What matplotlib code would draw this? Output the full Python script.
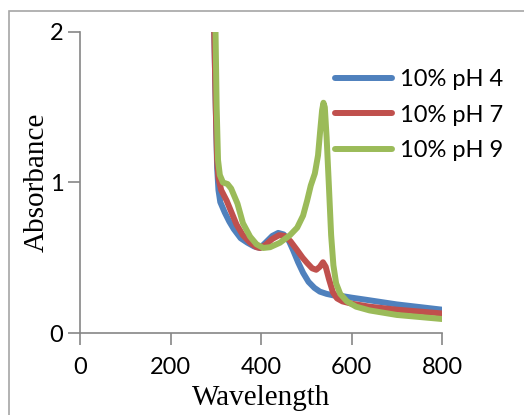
import matplotlib
matplotlib.use('Agg')
import matplotlib.pyplot as plt
from matplotlib.patches import Rectangle

# wavelength (nm) / absorbance
wl_ph4 = [296, 300, 303, 306, 310, 320, 330, 340, 355, 370, 385, 398, 410, 425, 438, 450, 462, 471,
          482, 493, 505, 518, 530, 545, 560, 580, 600, 634, 700, 800]
abs_ph4 = [2.1, 1.5, 1.1, 0.95, 0.87, 0.80, 0.74, 0.69, 0.63, 0.60, 0.575, 0.565, 0.60, 0.645, 0.665,
           0.655, 0.61, 0.55, 0.47, 0.40, 0.34, 0.30, 0.275, 0.26, 0.25, 0.245, 0.235, 0.22, 0.19, 0.155]

wl_ph7 = [296, 300, 303, 306, 312, 324, 335, 346, 360, 376, 390, 398, 410, 425, 440, 452, 465, 480,
          492, 502, 513, 522, 530, 537, 543, 550, 559, 568, 580, 600, 640, 700, 800]
abs_ph7 = [2.1, 1.5, 1.15, 1.03, 0.95, 0.88, 0.80, 0.72, 0.65, 0.60, 0.57, 0.565, 0.585, 0.625, 0.65,
           0.645, 0.61, 0.55, 0.50, 0.465, 0.43, 0.42, 0.44, 0.47, 0.44, 0.36, 0.27, 0.23, 0.21, 0.195,
           0.175, 0.155, 0.13]

wl_ph9 = [299, 302, 305, 309, 316, 326, 334, 341, 348, 360, 376, 390, 405, 420, 442, 464, 480, 493,
          502, 510, 519, 526, 531, 535, 538, 541, 545, 550, 555, 560, 566, 575, 590, 610, 640, 700, 800]
abs_ph9 = [2.1, 1.5, 1.15, 1.05, 1.0, 0.99, 0.96, 0.91, 0.86, 0.73, 0.64, 0.59, 0.565, 0.57, 0.60, 0.65,
           0.70, 0.78, 0.88, 0.98, 1.06, 1.18, 1.35, 1.48, 1.53, 1.50, 1.30, 0.98, 0.65, 0.45, 0.33,
           0.26, 0.21, 0.175, 0.15, 0.12, 0.093]

labels = ['10% pH 4', '10% pH 7', '10% pH 9']
colors = ['#4F81BD', '#C0504D', '#9BBB59']
xticks = [0, 200, 400, 600, 800]
yticks = [0, 1, 2]

W, H = 524, 415
fig = plt.figure(figsize=(W / 100, H / 100), dpi=100)
ax = fig.add_axes([80 / W, 1 - 333 / H, 362 / W, 301 / H])

# outer chart frame
fig.patches.append(Rectangle((9 / W, -0.1), 1.2, 1 - 11 / H + 0.1, transform=fig.transFigure,
                             fill=False, edgecolor='#A6A6A6', linewidth=1.2))

ax.plot(wl_ph4, abs_ph4, color=colors[0], lw=4.3, label=labels[0], solid_capstyle='round', solid_joinstyle='round')
ax.plot(wl_ph7, abs_ph7, color=colors[1], lw=4.3, label=labels[1], solid_capstyle='round', solid_joinstyle='round')
ax.plot(wl_ph9, abs_ph9, color=colors[2], lw=4.3, label=labels[2], solid_capstyle='round', solid_joinstyle='round')

ax.set_xlim(0, 800)
ax.set_ylim(0, 2)
ax.set_xticks(xticks)
ax.set_yticks(yticks)
for s in ['top', 'right']:
    ax.spines[s].set_visible(False)
for s in ['left', 'bottom']:
    ax.spines[s].set_color('#868686')
    ax.spines[s].set_linewidth(1.2)
ax.tick_params(colors='#868686', labelcolor='black', length=8.5, width=1.2, labelsize=17)
ax.tick_params(axis='x', pad=8.5)
ax.tick_params(axis='y', pad=3.5)
for t in ax.get_xticklabels() + ax.get_yticklabels():
    t.set_fontfamily('Lato')

ax.set_xlabel('Wavelength', fontsize=21, family='Liberation Serif')
ax.set_ylabel('Absorbance', fontsize=21, family='Liberation Serif')
ax.xaxis.set_label_coords(0.5, -(385 - 333) / 301)
ax.yaxis.set_label_coords((50 - 80) / 362, 0.5)

leg = ax.legend(loc='upper left', bbox_to_anchor=(335 / W, 1 - 69 / H), bbox_transform=fig.transFigure,
                frameon=False, prop={'family': 'Lato', 'size': 17}, handlelength=2.4,
                handletextpad=0.35, labelspacing=0.62, borderpad=0, borderaxespad=0)

fig.savefig('out.png', dpi=100)
